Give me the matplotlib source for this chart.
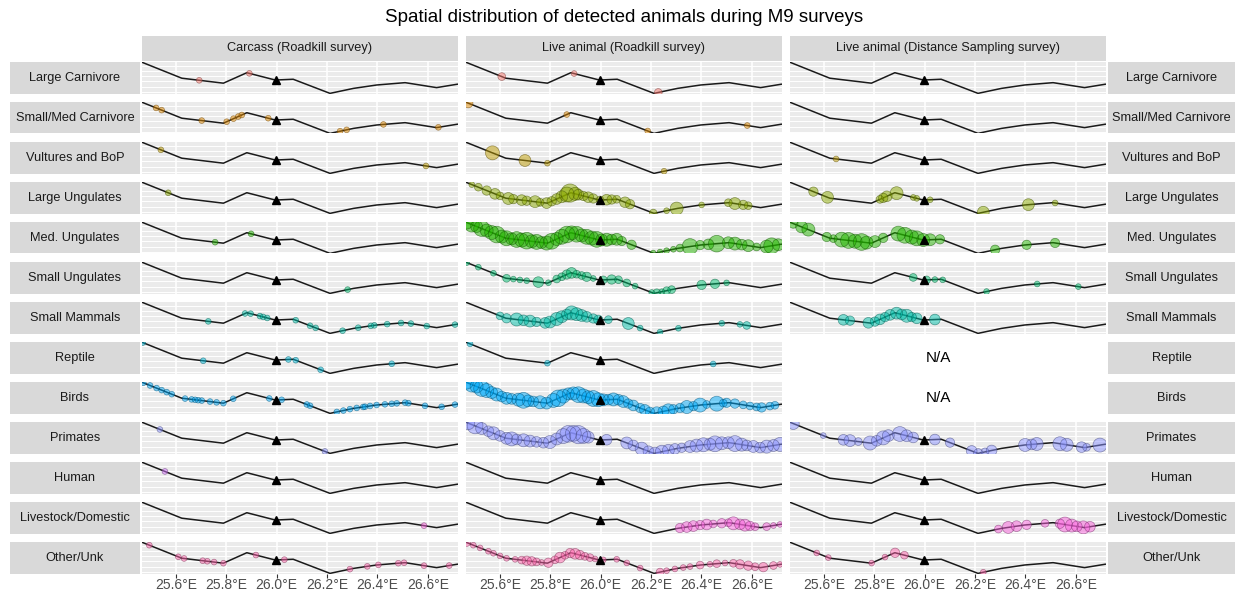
import numpy as np
import matplotlib
matplotlib.use("Agg")
import matplotlib.pyplot as plt
from matplotlib.colors import to_rgb

plt.rcParams['font.family'] = ['Liberation Sans', 'DejaVu Sans']

# M9 road centreline (lon, lat) and the reference marker
road_lon = [25.466, 25.624, 25.789, 25.882, 25.995, 26.066, 26.212, 26.305, 26.397, 26.510, 26.635, 26.717]
road_lat = [-14.807, -14.868, -14.887, -14.847, -14.875, -14.872, -14.926, -14.907, -14.894, -14.885, -14.904, -14.891]
camp_lon, camp_lat = 25.997, -14.875

categories = ["Large Carnivore", "Small/Med Carnivore", "Vultures and BoP", "Large Ungulates",
              "Med. Ungulates", "Small Ungulates", "Small Mammals", "Reptile", "Birds",
              "Primates", "Human", "Livestock/Domestic", "Other/Unk"]
colors = ["#F8766D", "#E18A00", "#BE9C00", "#8CAB00", "#24B700", "#00BE70", "#00C1AB",
          "#00BBDA", "#00ACFC", "#8B93FF", "#D575FE", "#F962DD", "#FF65AC"]
surveys = ["Carcass (Roadkill survey)", "Live animal (Roadkill survey)",
           "Live animal (Distance Sampling survey)"]
lon_ticks = [25.6, 25.8, 26.0, 26.2, 26.4, 26.6]

# carcass records: longitude of each carcass (one animal each)
carcass = {
    "Large Carnivore": [25.693, 25.892],
    "Small/Med Carnivore": [25.522, 25.544, 25.703, 25.802, 25.829, 25.848, 25.862, 25.967,
                            26.252, 26.278, 26.424, 26.642],
    "Vultures and BoP": [25.541, 26.593],
    "Large Ungulates": [25.570],
    "Med. Ungulates": [25.756, 25.899],
    "Small Ungulates": [26.282],
    "Small Mammals": [25.729, 25.875, 25.897, 25.934, 25.947, 25.963, 26.076, 26.133, 26.155,
                      26.262, 26.324, 26.374, 26.388, 26.439, 26.494, 26.533, 26.596, 26.708],
    "Reptile": [25.469, 25.709, 26.047, 26.076, 26.175, 26.457],
    "Birds": [25.471, 25.498, 25.524, 25.544, 25.564, 25.584, 25.637, 25.663, 25.677, 25.689,
              25.703, 25.736, 25.762, 25.789, 25.828, 25.971, 26.020, 26.120, 26.133, 26.239,
              26.265, 26.291, 26.318, 26.344, 26.351, 26.371, 26.397, 26.430, 26.457, 26.477,
              26.510, 26.523, 26.589, 26.655, 26.708],
    "Primates": [25.537, 26.192],
    "Human": [25.557],
    "Livestock/Domestic": [26.585],
    "Other/Unk": [25.495, 25.610, 25.633, 25.707, 25.725, 25.752, 25.789, 25.918, 26.031,
                  26.291, 26.360, 26.404, 26.483, 26.506, 26.585, 26.685],
}

# live sightings during the roadkill survey: (longitudes, group sizes)
live_rk = {
    "Large Carnivore": ([25.608, 25.895, 26.229], [2, 1, 2]),
    "Small/Med Carnivore": ([25.475, 25.866, 26.187, 26.582], [3, 1, 1, 1]),
    "Vultures and BoP": ([25.571, 25.700, 25.789, 26.252], [7, 5, 1, 1]),
    "Large Ungulates": (
        [25.489, 25.515, 25.548, 25.581, 25.601, 25.634, 25.654, 25.687, 25.707, 25.740, 25.760,
         25.786, 25.806, 25.826, 25.846, 25.866, 25.879, 25.899, 25.912, 25.932, 25.951, 25.971,
         25.998, 26.024, 26.044, 26.064, 26.097, 26.117, 26.209, 26.262, 26.302, 26.401, 26.507,
         26.533, 26.566, 26.586],
        [1, 2, 3, 4, 2, 5, 3, 4, 3, 5, 2, 4, 3, 4, 5, 8, 12, 6, 4, 3, 4, 3, 2, 4, 3, 2, 4, 3, 2,
         1, 6, 1, 2, 5, 3, 2]),
    "Med. Ungulates": (
        [25.469, 25.489, 25.508, 25.528, 25.548, 25.568, 25.588, 25.608, 25.627, 25.647, 25.667,
         25.687, 25.707, 25.727, 25.746, 25.766, 25.786, 25.806, 25.826, 25.846, 25.866, 25.885,
         25.905, 25.925, 25.945, 25.965, 25.985, 26.004, 26.024, 26.044, 26.064, 26.084, 26.123,
         26.209, 26.236, 26.262, 26.289, 26.315, 26.355, 26.395, 26.428, 26.461, 26.507, 26.533,
         26.560, 26.586, 26.619, 26.659, 26.679, 26.705],
        [6, 8, 5, 9, 6, 7, 10, 6, 8, 5, 9, 7, 10, 6, 8, 5, 7, 9, 6, 8, 10, 7, 9, 6, 8, 7, 9, 5,
         6, 4, 5, 3, 3, 1, 1, 1, 1, 2, 9, 3, 4, 10, 5, 6, 4, 5, 2, 6, 9, 5]),
    "Small Ungulates": (
        [25.469, 25.515, 25.575, 25.627, 25.654, 25.680, 25.707, 25.753, 25.793, 25.826, 25.846,
         25.866, 25.885, 25.905, 25.925, 25.945, 25.971, 26.011, 26.044, 26.071, 26.104, 26.137,
         26.203, 26.223, 26.243, 26.262, 26.282, 26.401, 26.454, 26.500],
        [1, 1, 1, 2, 1, 1, 1, 4, 1, 2, 2, 3, 4, 2, 2, 3, 1, 2, 3, 2, 2, 1, 1, 2, 1, 2, 2, 3, 3, 1]),
    "Small Mammals": (
        [25.601, 25.627, 25.667, 25.694, 25.720, 25.746, 25.780, 25.799, 25.826, 25.846, 25.866,
         25.885, 25.905, 25.925, 25.945, 25.971, 25.991, 26.031, 26.110, 26.157, 26.236, 26.309,
         26.481, 26.553, 26.580],
        [2, 3, 6, 4, 5, 3, 4, 5, 6, 5, 4, 7, 6, 5, 4, 3, 3, 2, 5, 1, 1, 1, 1, 1, 2]),
    "Reptile": ([25.482, 25.789, 26.447], [1, 1, 1]),
    "Birds": (
        [25.469, 25.489, 25.508, 25.528, 25.548, 25.568, 25.588, 25.608, 25.627, 25.647, 25.674,
         25.694, 25.713, 25.733, 25.760, 25.786, 25.813, 25.832, 25.852, 25.872, 25.892, 25.912,
         25.932, 25.951, 25.971, 25.991, 26.011, 26.031, 26.051, 26.071, 26.090, 26.110, 26.130,
         26.157, 26.176, 26.196, 26.223, 26.249, 26.269, 26.289, 26.315, 26.342, 26.368, 26.395,
         26.421, 26.461, 26.487, 26.500, 26.533, 26.566, 26.593, 26.619, 26.639, 26.672, 26.692],
        [6, 8, 6, 9, 7, 5, 6, 4, 5, 4, 6, 9, 5, 4, 6, 5, 7, 10, 7, 5, 6, 9, 7, 6, 9, 7, 5, 4, 6,
         4, 5, 3, 4, 3, 4, 3, 5, 4, 6, 3, 3, 6, 3, 7, 2, 8, 2, 3, 3, 2, 2, 2, 3, 2, 2]),
    "Primates": (
        [25.475, 25.502, 25.528, 25.555, 25.575, 25.601, 25.627, 25.647, 25.667, 25.694, 25.720,
         25.746, 25.773, 25.799, 25.826, 25.852, 25.872, 25.892, 25.912, 25.932, 25.951, 26.024,
         26.104, 26.130, 26.163, 26.190, 26.216, 26.243, 26.269, 26.295, 26.322, 26.355, 26.381,
         26.408, 26.434, 26.454, 26.481, 26.507, 26.533, 26.560, 26.580, 26.606, 26.633, 26.659,
         26.686, 26.712],
        [6, 9, 5, 4, 6, 4, 5, 7, 4, 6, 5, 4, 4, 6, 5, 8, 10, 9, 12, 8, 5, 4, 5, 4, 6, 4, 5, 6, 5,
         4, 3, 5, 6, 7, 5, 9, 6, 5, 9, 6, 4, 5, 4, 6, 5, 7]),
    "Livestock/Domestic": (
        [26.315, 26.342, 26.368, 26.395, 26.421, 26.447, 26.481, 26.507, 26.527, 26.553, 26.573,
         26.593, 26.613, 26.659, 26.686, 26.712],
        [3, 4, 4, 3, 4, 2, 3, 2, 6, 4, 5, 3, 2, 2, 1, 1]),
    "Other/Unk": (
        [25.469, 25.495, 25.522, 25.555, 25.575, 25.601, 25.627, 25.661, 25.687, 25.707, 25.727,
         25.746, 25.766, 25.793, 25.819, 25.839, 25.859, 25.879, 25.899, 25.918, 25.938, 25.958,
         25.978, 26.011, 26.064, 26.104, 26.157, 26.236, 26.262, 26.295, 26.328, 26.355, 26.395,
         26.434, 26.461, 26.494, 26.527, 26.553, 26.586, 26.613, 26.646, 26.686, 26.712],
        [2, 1, 1, 1, 1, 1, 1, 1, 2, 3, 3, 2, 1, 3, 2, 4, 2, 3, 4, 3, 2, 2, 1, 1, 1, 1, 1, 2, 1,
         1, 1, 1, 2, 1, 2, 1, 2, 3, 3, 2, 3, 2, 1]),
}

# distance sampling sightings: (longitudes, group sizes); None = not surveyed
live_ds = {
    "Large Carnivore": ([], []),
    "Small/Med Carnivore": ([], []),
    "Vultures and BoP": ([25.649], [1]),
    "Large Ungulates": (
        [25.559, 25.615, 25.823, 25.836, 25.850, 25.889, 25.955, 25.969, 26.022, 26.233, 26.412,
         26.518],
        [3, 5, 2, 3, 4, 6, 1, 1, 1, 5, 5, 1]),
    "Med. Ungulates": (
        [25.479, 25.512, 25.539, 25.612, 25.638, 25.671, 25.698, 25.724, 25.750, 25.770, 25.803,
         25.836, 25.896, 25.922, 25.949, 25.969, 25.995, 26.022, 26.061, 26.280, 26.405, 26.518],
        [3, 5, 6, 3, 2, 8, 9, 7, 10, 6, 5, 3, 8, 9, 7, 8, 6, 5, 3, 3, 3, 3]),
    "Small Ungulates": ([25.955, 26.008, 26.041, 26.072, 26.246, 26.447, 26.610],
                        [2, 2, 1, 1, 1, 1, 1]),
    "Small Mammals": (
        [25.678, 25.704, 25.777, 25.803, 25.823, 25.843, 25.863, 25.889, 25.909, 25.929, 25.949,
         25.969, 26.041],
        [4, 3, 4, 3, 4, 3, 4, 5, 4, 6, 3, 4, 4]),
    "Reptile": None,
    "Birds": None,
    "Primates": (
        [25.479, 25.598, 25.678, 25.704, 25.737, 25.784, 25.810, 25.836, 25.856, 25.902, 25.929,
         25.955, 26.041, 26.101, 26.187, 26.213, 26.240, 26.266, 26.399, 26.425, 26.445, 26.537,
         26.564, 26.623, 26.643, 26.696],
        [5, 1, 4, 5, 2, 7, 4, 7, 5, 8, 5, 4, 4, 3, 4, 3, 2, 4, 6, 4, 6, 7, 6, 4, 2, 7]),
    "Human": ([], []),
    "Livestock/Domestic": (
        [26.293, 26.332, 26.365, 26.405, 26.478, 26.537, 26.557, 26.584, 26.604, 26.630, 26.656],
        [2, 5, 4, 3, 2, 3, 8, 6, 4, 6, 4]),
    "Other/Unk": ([25.572, 25.618, 25.790, 25.843, 25.883, 25.920, 26.233], [1, 1, 1, 1, 3, 2, 1]),
}

W, H = 1235, 594
fig = plt.figure(figsize=(W / 100, H / 100), dpi=100)


def box(x0, y0, w, h):
    # pixel box (top-left origin) -> figure axes rect
    return [x0 / W, 1 - (y0 + h) / H, w / W, h / H]


col_left = [142, 466, 790]
pw, ph = 316, 31.5
row_top = [62 + 40 * i for i in range(len(categories))]
xlim = (25.466, 25.466 + pw / 252)
ylim = (-14.9265, -14.806)
lat_grid = np.arange(-14.92, -14.80, 0.02)

fig.text(624 / W, 1 - 18 / H, "Spatial distribution of detected animals during M9 surveys",
         ha="center", va="center", fontsize=13.5, color="black")


def label_box(x0, y0, w, h, text):
    ax = fig.add_axes(box(x0, y0, w, h))
    ax.set_facecolor("#D9D9D9")
    ax.set_xticks([])
    ax.set_yticks([])
    for s in ax.spines.values():
        s.set_visible(False)
    ax.text(0.5, 0.5, text, ha="center", va="center", fontsize=9.2, color="#1A1A1A",
            transform=ax.transAxes)


for j, name in enumerate(surveys):
    label_box(col_left[j], 36, pw, 25, name)

for i, cat in enumerate(categories):
    label_box(10, row_top[i], 130, ph, cat)
    label_box(1108, row_top[i], 127, ph, cat)

    col = colors[i]
    edge = tuple(c * 0.5 for c in to_rgb(col))
    kills = carcass.get(cat, [])
    panels = [(kills, [1] * len(kills)), live_rk.get(cat, ([], [])), live_ds[cat]]

    for j in range(3):
        ax = fig.add_axes(box(col_left[j], row_top[i], pw, ph))
        ax.set_xlim(*xlim)
        ax.set_ylim(*ylim)
        for s in ax.spines.values():
            s.set_visible(False)
        ax.tick_params(length=0, labelleft=False, labelbottom=False)
        ax.set_yticks([])
        data = panels[j]
        if data is None:
            ax.set_xticks([])
            ax.set_facecolor("white")
            ax.text(0.47, 0.5, "N/A", ha="center", va="center", fontsize=11,
                    color="black", transform=ax.transAxes)
            continue
        ax.set_facecolor("#EBEBEB")
        for v in lon_ticks:
            ax.axvline(v, color="white", lw=1.1, zorder=0)
        for v in lat_grid:
            ax.axhline(v, color="white", lw=0.7, zorder=0)
        ax.plot(road_lon, road_lat, color="#1A1A1A", lw=1.1, zorder=2)
        lons, counts = data
        if len(lons):
            lons = np.asarray(lons)
            lats = np.interp(lons, road_lon, road_lat)
            sizes = 3 + 14 * np.asarray(counts)
            ax.scatter(lons, lats, s=sizes, facecolor=col, alpha=0.5, edgecolor="none",
                       zorder=3)
            ax.scatter(lons, lats, s=sizes, facecolor="none", edgecolor=edge, alpha=0.6,
                       linewidths=0.5, zorder=3)
        ax.plot([camp_lon], [camp_lat], marker="^", color="black", ms=5.5, ls="none", zorder=4)
        ax.set_xticks(lon_ticks)
        if i == len(categories) - 1:
            ax.tick_params(axis="x", length=3, color="#333333", labelbottom=True,
                           labelsize=10, labelcolor="#4D4D4D", pad=0)
            ax.set_xticklabels([f"{v:.1f}°E" for v in lon_ticks])

fig.savefig("out.png", dpi=100)
